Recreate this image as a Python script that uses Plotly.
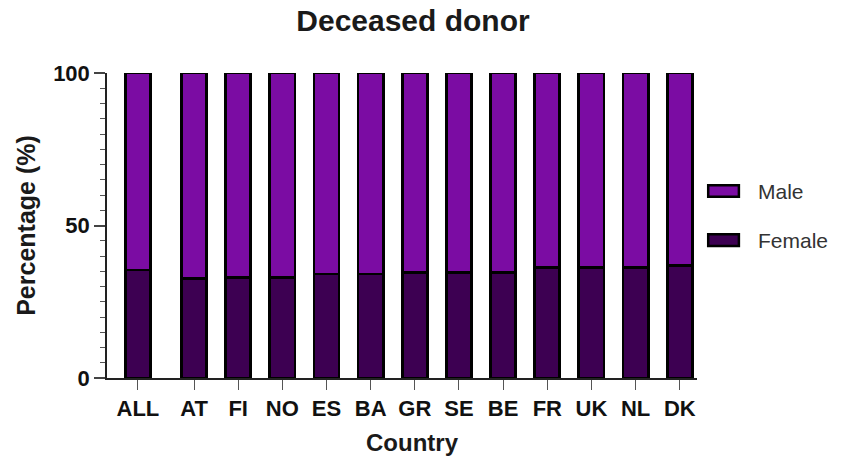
import plotly.graph_objects as go

countries = ["ALL", "AT", "FI", "NO", "ES", "BA", "GR", "SE", "BE", "FR", "UK", "NL", "DK"]
female = [35.4, 32.7, 33.0, 33.0, 34.1, 34.1, 34.5, 34.7, 34.5, 36.2, 36.2, 36.2, 37.0]
male = [round(100 - f, 1) for f in female]

# layout: an extra gap after the pooled "ALL" group
group_gap = 0.27
xpos = [i + (group_gap if i > 0 else 0) for i in range(len(countries))]

male_color = "#7B0CA3"
female_color = "#3D0052"
font = "Liberation Sans, Arial, sans-serif"

fig = go.Figure()
fig.add_trace(go.Bar(x=xpos, y=female, name="Female", width=0.57, showlegend=False,
                     marker=dict(color=female_color, line=dict(color="black", width=2.8))))
fig.add_trace(go.Bar(x=xpos, y=male, name="Male", width=0.57, showlegend=False,
                     marker=dict(color=male_color, line=dict(color="black", width=2.8))))

# custom legend (symbol boxes + labels) to the right of the plot
legend_items = [("Male", male_color, 0.613), ("Female", female_color, 0.452)]
shapes, annotations = [], []
for label, col, yc in legend_items:
    shapes.append(dict(type="rect", xref="paper", yref="paper",
                       x0=1.019, x1=1.071, y0=yc - 0.019, y1=yc + 0.019,
                       fillcolor=col, line=dict(color="black", width=2.5)))
    annotations.append(dict(text=label, xref="paper", yref="paper", x=1.100, y=yc,
                            xanchor="left", yanchor="middle", showarrow=False,
                            font=dict(size=21, color="#333", family=font)))
# x-axis title
annotations.append(dict(text="<b>Country</b>", xref="paper", yref="paper", x=0.517, y=-0.213,
                        xanchor="center", yanchor="middle", showarrow=False,
                        font=dict(size=24, color="#1a1a1a", family=font)))

fig.update_layout(
    barmode="stack",
    width=854, height=459,
    margin=dict(l=107, r=157, t=73, b=81, autoexpand=False),
    plot_bgcolor="white", paper_bgcolor="white",
    font=dict(family=font, color="black"),
    title=dict(text="<b>Deceased donor</b>", x=0.4836, xanchor="center", y=0.955, yanchor="middle",
               font=dict(size=30, color="#1a1a1a")),
    shapes=shapes, annotations=annotations,
    showlegend=False,
)
fig.update_xaxes(
    range=[-0.70, xpos[-1] + 0.39],
    tickvals=xpos, ticktext=[f"<b>{c}</b>" for c in countries],
    tickfont=dict(size=22, color="#111"),
    showline=True, linecolor="#222", linewidth=1.5,
    ticks="outside", ticklen=10, tickcolor="#555", tickwidth=1,
    showgrid=False, zeroline=False, automargin=False,
)
fig.update_yaxes(
    range=[0, 100], tickvals=[0, 50, 100], ticktext=["<b>0</b>", "<b>50</b>", "<b>100</b>"],
    tickfont=dict(size=22, color="#111"),
    showline=True, linecolor="#222", linewidth=1.5,
    ticks="outside", ticklen=11, tickcolor="#444", tickwidth=1.5,
    minor=dict(dtick=5, ticks="outside", ticklen=5, tickcolor="#555", tickwidth=1),
    showgrid=False, zeroline=False, automargin=False,
    title=dict(text="<b>Percentage (%)</b>", font=dict(size=25, color="#1a1a1a"), standoff=10),
)

# remove the page's default body margin so the figure fills the window exactly
fig.write_html("out.html", config={"displayModeBar": False},
               post_script="document.body.style.margin='0';")
